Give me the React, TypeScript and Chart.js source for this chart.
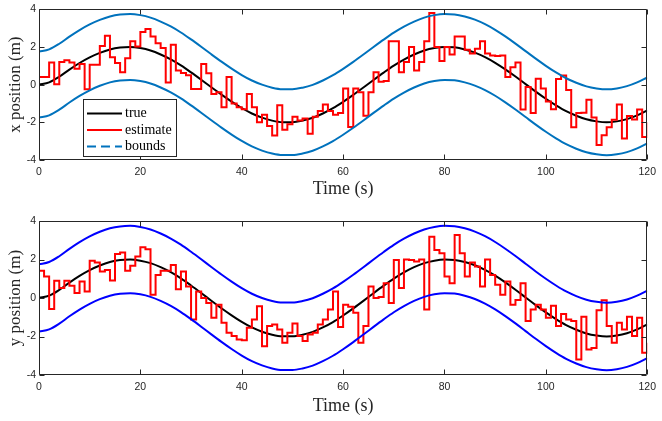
import { useEffect, useRef } from "react";
import { Chart, registerables } from "chart.js";

Chart.register(...registerables);

// Sample times (s) of the reference trajectory and its bounds
const TIME_SMOOTH = [
  0, 2, 4, 6, 8, 10, 12, 14, 16, 18, 20, 22, 24, 26, 28, 30, 32, 34, 36, 38, 40,
  42, 44, 46, 48, 50, 52, 54, 56, 58, 60, 62, 64, 66, 68, 70, 72, 74, 76, 78, 80,
  82, 84, 86, 88, 90, 92, 94, 96, 98, 100, 102, 104, 106, 108, 110, 112, 114, 116, 118, 120,
];

// True position (m), shared by both axes
const TRUE_POS = [
  0.0, 0.12, 0.42, 0.8, 1.15, 1.45, 1.69, 1.87, 1.97, 2.0, 1.94, 1.81, 1.6, 1.34, 1.02,
  0.65, 0.26, -0.14, -0.53, -0.9, -1.24, -1.53, -1.75, -1.91, -1.99, -1.99, -1.91, -1.76,
  -1.53, -1.25, -0.91, -0.54, -0.15, 0.25, 0.64, 1.01, 1.33, 1.6, 1.81, 1.94, 2.0, 1.98,
  1.87, 1.7, 1.46, 1.16, 0.81, 0.43, 0.03, -0.37, -0.75, -1.1, -1.41, -1.65, -1.84, -1.95,
  -2.0, -1.95, -1.83, -1.63, -1.37,
];

// Upper / lower confidence bounds (m)
const UPPER_BOUND = [
  1.75, 1.87, 2.17, 2.55, 2.9, 3.2, 3.44, 3.62, 3.72, 3.75, 3.69, 3.56, 3.35, 3.09, 2.77,
  2.4, 2.01, 1.61, 1.22, 0.85, 0.51, 0.22, 0.0, -0.16, -0.24, -0.24, -0.16, -0.01, 0.22,
  0.5, 0.84, 1.21, 1.6, 2.0, 2.39, 2.76, 3.08, 3.35, 3.56, 3.69, 3.75, 3.73, 3.62, 3.45,
  3.21, 2.91, 2.56, 2.18, 1.78, 1.38, 1.0, 0.65, 0.34, 0.1, -0.09, -0.2, -0.25, -0.2,
  -0.08, 0.12, 0.38,
];
const LOWER_BOUND = [
  -1.75, -1.63, -1.33, -0.95, -0.6, -0.3, -0.06, 0.12, 0.22, 0.25, 0.19, 0.06, -0.15,
  -0.41, -0.73, -1.1, -1.49, -1.89, -2.28, -2.65, -2.99, -3.28, -3.5, -3.66, -3.74, -3.74,
  -3.66, -3.51, -3.28, -3.0, -2.66, -2.29, -1.9, -1.5, -1.11, -0.74, -0.42, -0.15, 0.06,
  0.19, 0.25, 0.23, 0.12, -0.05, -0.29, -0.59, -0.94, -1.32, -1.72, -2.12, -2.5, -2.85,
  -3.16, -3.4, -3.59, -3.7, -3.75, -3.7, -3.58, -3.38, -3.12,
];

// Filter estimates: value at t = 0, one value per 1 s interval, and the value at t = 120
const X_EST_INITIAL = 0.25;
const X_ESTIMATE = [
  0.4, 0.4, 1.17, 0.02, 1.2, 1.3, 1.17, 0.85, 1.1, -0.25, 1.05, 1.05, 2.05, 2.6, 1.45,
  1.15, 0.66, 1.4, 2.3, 2.02, 2.8, 2.95, 2.55, 2.2, 1.95, 0.12, 2.12, 0.75, 0.62, 0.5,
  -0.23, -0.23, 1.09, 0.6, -0.5, -0.4, -1.2, 0.4, -1.0, -1.2, -1.3, -0.5, -1.2, -2.0,
  -1.6, -2.2, -2.7, -1.1, -2.4, -2.1, -1.7, -1.9, -1.8, -2.6, -1.7, -1.4, -1.05, -1.4,
  -1.6, -1.5, -0.2, -2.25, -0.2, -0.4, -1.65, -0.4, 0.66, 0.15, 0.2, 2.3, 2.3, 0.66, 1.2,
  2.0, 0.75, 1.2, 2.3, 3.8, 2.0, 1.26, 2.0, 1.6, 2.55, 2.55, 1.85, 1.65, 1.9, 2.3, 1.65,
  1.55, 1.52, 1.55, 0.4, 0.92, 1.17, -1.32, -0.12, -1.5, 0.31, -0.2, -0.9, -1.3, 0.3,
  0.49, -0.28, -2.26, -1.5, -1.49, -0.8, -1.74, -3.2, -2.69, -2.26, -1.86, -1.06, -2.86,
  -1.66, -1.85, -1.32, -2.78,
];
const X_EST_FINAL = -2.0;
const Y_EST_INITIAL = 0.75;
const Y_ESTIMATE = [
  1.41, 1.12, -0.57, 0.89, 0.52, 0.89, 0.63, 0.26, 0.86, 0.34, 1.94, 1.85, 1.38, 1.45,
  0.91, 2.29, 2.36, 1.41, 1.67, 2.15, 2.63, 2.53, 0.17, 1.2, 1.41, 1.41, 1.72, 0.46, 1.38,
  0.6, -1.12, 0.34, 0.0, -0.26, -1.03, -0.35, -1.29, -1.81, -1.98, -2.15, -2.2, -1.55,
  -1.12, -0.43, -2.5, -1.46, -1.38, -1.64, -2.33, -1.81, -1.33, -1.98, -2.24, -1.9, -1.81,
  -1.38, -1.12, -0.6, 0.34, -1.5, -0.35, -0.45, -0.77, -2.33, -1.46, 0.6, 0.0, 0.05, 0.77,
  -0.26, 1.98, 0.52, 2.0, 1.98, 1.89, 2.0, -0.6, 3.18, 2.5, 2.32, 1.12, 0.77, 3.27, 2.32,
  1.12, 1.84, 1.63, 0.6, 2.0, 1.2, 0.69, 0.17, 0.86, -0.35, -0.1, 0.77, -1.2, -0.6, -0.35,
  -0.6, -1.03, -0.4, -1.46, -0.83, -1.12, -1.2, -3.19, -0.98, -2.67, -2.6, -0.64, -0.12,
  -1.46, -2.33, -1.29, -1.64, -0.98, -1.98, -1.03, -2.84,
];
const Y_EST_FINAL = -2.33;

const X_TICKS = [0, 20, 40, 60, 80, 100, 120];
const Y_TICKS = [-4, -2, 0, 2, 4];
const LEGEND_LABELS = ["true", "estimate", "bounds"];

const AXIS_COLOR = "#262626";
const TICK_FONT = { family: "'Liberation Sans', Arial, sans-serif", size: 10.5 };
const X_TITLE_FONT = { family: "'Liberation Serif', 'Times New Roman', serif", size: 18 };
const Y_TITLE_FONT = { family: "'Liberation Serif', 'Times New Roman', serif", size: 17 };

type PanelSpec = {
  padTop: number;
  xAxisHeight: number;
  titleGap: number;
  yTitle: string;
  estimate: number[];
  initial: number;
  final: number;
  boundColor: string;
  legend: boolean;
};

function smoothPoints(values: number[]) {
  return TIME_SMOOTH.map((t, i) => ({ x: t, y: values[i] }));
}

// Staircase points: each value is held over [k, k + 1)
function stepPoints(initial: number, values: number[], final: number) {
  const pts = [{ x: 0, y: initial }];
  values.forEach((v, k) => pts.push({ x: k, y: v }));
  pts.push({ x: values.length, y: values[values.length - 1] });
  pts.push({ x: values.length, y: final });
  return pts;
}

// Box outline with inward tick marks on all four sides, plus the legend
const framePlugin = {
  id: "frame",
  afterDatasetsDraw(chart: any, _args: any, opts: any) {
    const { ctx, chartArea, scales } = chart;
    const { left, right, top, bottom } = chartArea;
    const xs = scales.x;
    const ys = scales.y;
    const L = Math.round(left) + 0.5;
    const R = Math.round(right) - 0.5;
    const T = Math.round(top) + 0.5;
    const B = Math.round(bottom) - 0.5;
    ctx.save();
    ctx.strokeStyle = AXIS_COLOR;
    ctx.lineWidth = 1;
    ctx.beginPath();
    ctx.rect(L, T, R - L, B - T);
    const tl = 5;
    X_TICKS.forEach((v) => {
      const px = Math.round(xs.getPixelForValue(v)) + 0.5;
      ctx.moveTo(px, B);
      ctx.lineTo(px, B - tl);
      ctx.moveTo(px, T);
      ctx.lineTo(px, T + tl);
    });
    Y_TICKS.forEach((v) => {
      const py = Math.round(ys.getPixelForValue(v)) + 0.5;
      ctx.moveTo(L, py);
      ctx.lineTo(L + tl, py);
      ctx.moveTo(R, py);
      ctx.lineTo(R - tl, py);
    });
    ctx.stroke();

    if (opts && opts.show) {
      const bx = 83.5;
      const by = 99.5;
      const bw = 93;
      const bh = 57;
      ctx.fillStyle = "#ffffff";
      ctx.fillRect(bx, by, bw, bh);
      ctx.strokeStyle = AXIS_COLOR;
      ctx.lineWidth = 1;
      ctx.strokeRect(bx, by, bw, bh);
      const rows = [113.5, 130, 146.5];
      const colors = ["#000000", "#ff0000", opts.boundColor];
      rows.forEach((ry, i) => {
        ctx.beginPath();
        ctx.strokeStyle = colors[i];
        ctx.lineWidth = 2;
        ctx.setLineDash(i === 2 ? [9, 5] : []);
        ctx.moveTo(87, ry);
        ctx.lineTo(122, ry);
        ctx.stroke();
        ctx.setLineDash([]);
        ctx.fillStyle = "#000000";
        ctx.font = "14px 'Liberation Serif', 'Times New Roman', serif";
        ctx.textBaseline = "middle";
        ctx.textAlign = "left";
        ctx.fillText(LEGEND_LABELS[i], 125, ry);
      });
    }
    ctx.restore();
  },
};

function buildChart(canvas: HTMLCanvasElement, spec: PanelSpec) {
  const xTitleLine = X_TITLE_FONT.size * 1.2;
  const yTitleLine = Y_TITLE_FONT.size * 1.2;
  return new Chart(canvas, {
    type: "line",
    data: {
      datasets: [
        {
          label: LEGEND_LABELS[0],
          data: smoothPoints(TRUE_POS),
          borderColor: "#000000",
          borderWidth: 2,
          pointRadius: 0,
          cubicInterpolationMode: "monotone",
          order: 3,
        },
        {
          label: LEGEND_LABELS[1],
          data: stepPoints(spec.initial, spec.estimate, spec.final),
          borderColor: "#ff0000",
          borderWidth: 2,
          pointRadius: 0,
          stepped: "before",
          order: 2,
        },
        {
          label: LEGEND_LABELS[2],
          data: smoothPoints(UPPER_BOUND),
          borderColor: spec.boundColor,
          borderWidth: 2,
          pointRadius: 0,
          cubicInterpolationMode: "monotone",
          order: 1,
        },
        {
          label: "lower",
          data: smoothPoints(LOWER_BOUND),
          borderColor: spec.boundColor,
          borderWidth: 2,
          pointRadius: 0,
          cubicInterpolationMode: "monotone",
          order: 1,
        },
      ],
    },
    options: {
      animation: false,
      responsive: false,
      devicePixelRatio: 1,
      parsing: false,
      layout: { padding: { top: spec.padTop, right: 7, left: 0, bottom: 0 } },
      plugins: {
        legend: { display: false },
        tooltip: { enabled: false },
        frame: { show: spec.legend, boundColor: spec.boundColor },
      } as any,
      scales: {
        x: {
          type: "linear",
          min: 0,
          max: 120,
          afterFit: (s: any) => {
            s.height = spec.xAxisHeight;
          },
          afterBuildTicks: (s: any) => {
            s.ticks = X_TICKS.map((v) => ({ value: v }));
          },
          grid: { display: false, drawTicks: false },
          border: { display: false },
          ticks: { color: AXIS_COLOR, font: TICK_FONT, padding: 6, maxRotation: 0 },
          title: {
            display: true,
            text: "Time (s)",
            color: AXIS_COLOR,
            font: X_TITLE_FONT,
            padding: { top: 0, bottom: spec.titleGap - xTitleLine / 2 },
          },
        },
        y: {
          type: "linear",
          min: -4,
          max: 4,
          afterFit: (s: any) => {
            s.width = 39;
          },
          afterBuildTicks: (s: any) => {
            s.ticks = Y_TICKS.map((v) => ({ value: v }));
          },
          grid: { display: false, drawTicks: false },
          border: { display: false },
          ticks: { color: AXIS_COLOR, font: TICK_FONT, padding: 3 },
          title: {
            display: true,
            text: spec.yTitle,
            color: AXIS_COLOR,
            font: Y_TITLE_FONT,
            padding: { top: 15.5 - yTitleLine / 2, bottom: 0 },
          },
        },
      },
    },
    plugins: [framePlugin],
  } as any);
}

export default function App() {
  const topRef = useRef<HTMLCanvasElement>(null);
  const bottomRef = useRef<HTMLCanvasElement>(null);

  useEffect(() => {
    const top = buildChart(topRef.current!, {
      padTop: 5,
      xAxisHeight: 50,
      titleGap: 21,
      yTitle: "x position (m)",
      estimate: X_ESTIMATE,
      initial: X_EST_INITIAL,
      final: X_EST_FINAL,
      boundColor: "#0072bd",
      legend: true,
    });
    const bottom = buildChart(bottomRef.current!, {
      padTop: 11,
      xAxisHeight: 46,
      titleGap: 15,
      yTitle: "y position (m)",
      estimate: Y_ESTIMATE,
      initial: Y_EST_INITIAL,
      final: Y_EST_FINAL,
      boundColor: "#0000ff",
      legend: false,
    });
    return () => {
      top.destroy();
      bottom.destroy();
    };
  }, []);

  return (
    <div
      style={{
        position: "absolute",
        left: 0,
        top: 0,
        width: 662,
        height: 421,
        background: "#ffffff",
      }}
    >
      <canvas ref={topRef} width={662} height={210} style={{ display: "block" }} />
      <canvas ref={bottomRef} width={662} height={211} style={{ display: "block" }} />
    </div>
  );
}
